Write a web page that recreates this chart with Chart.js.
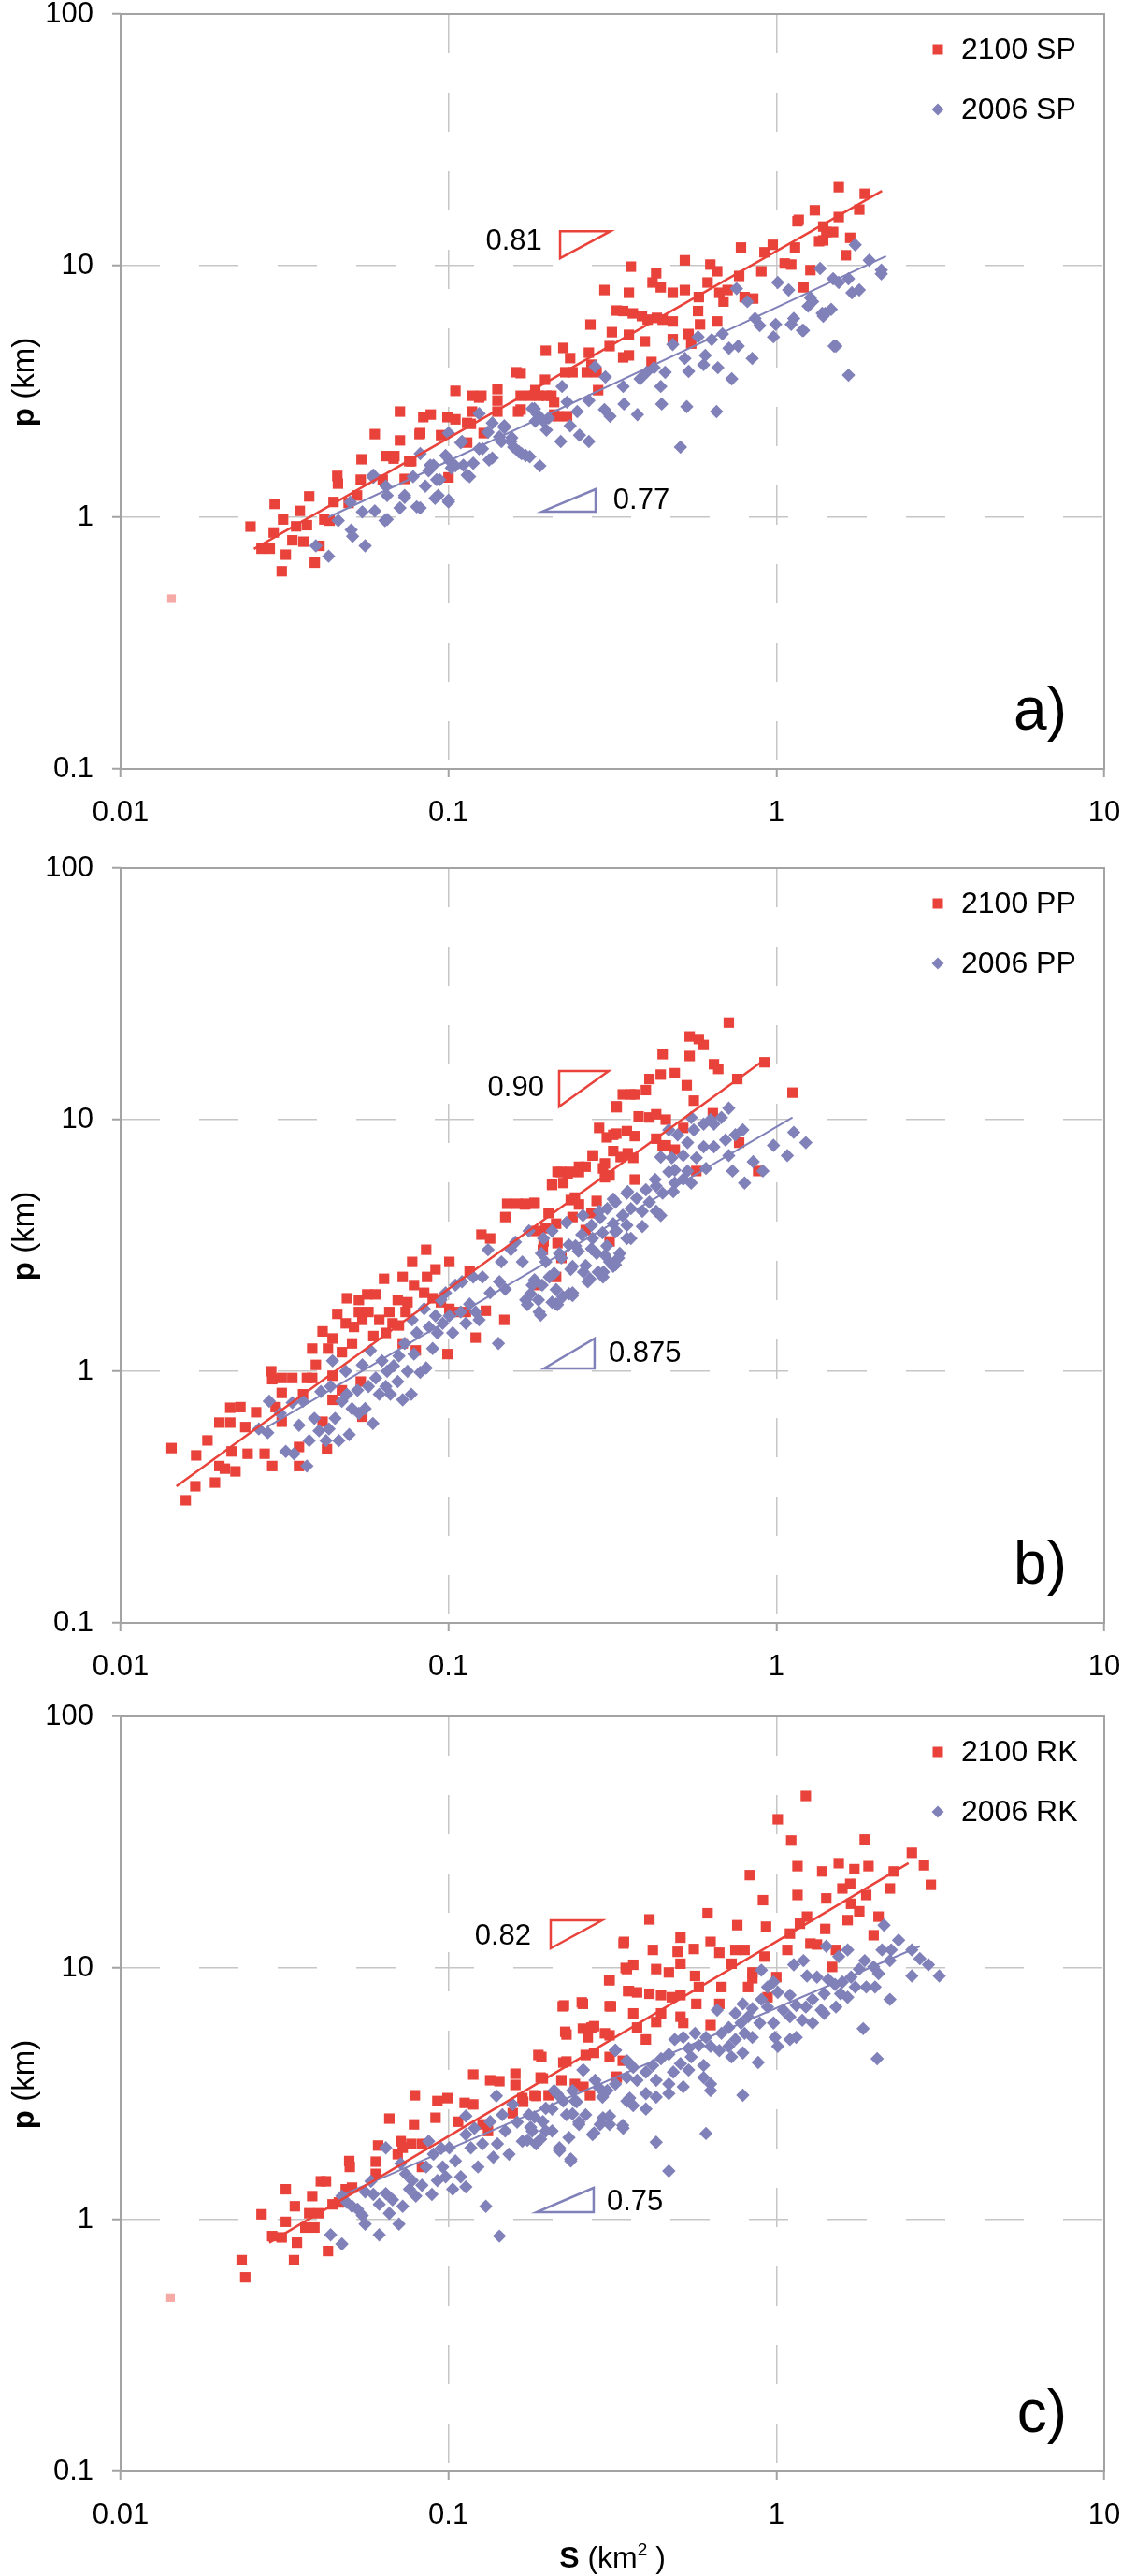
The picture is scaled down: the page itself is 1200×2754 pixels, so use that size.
<!DOCTYPE html>
<html>
<head>
<meta charset="utf-8">
<script src="https://cdn.jsdelivr.net/npm/chart.js@4.4.1/dist/chart.umd.min.js"></script>
<style>
  html, body { margin: 0; padding: 0; background: #fff; }
  #wrap { position: relative; width: 1200px; height: 2754px; }
  canvas { position: absolute; left: 0; }
</style>
</head>
<body>
<div id="wrap">
  <canvas id="panel-a" width="1200" height="911" style="top:0"></canvas>
  <canvas id="panel-b" width="1200" height="911" style="top:913px"></canvas>
  <canvas id="panel-c" width="1200" height="934" style="top:1820px"></canvas>
</div>
<script>
// axes
const xTicks = [0.01, 0.1, 1, 10];
const xTickLabels = ['0.01', '0.1', '1', '10'];
const yTicks = [0.1, 1, 10, 100];
const yTickLabels = ['0.1', '1', '10', '100'];

// a) SP
const sp2100 = [[0.0249,0.918],[0.0295,1.13],[0.0313,0.98],[0.0293,0.87],[0.0269,0.75],[0.0285,0.75],[0.031,0.61],[0.0319,0.71],[0.0343,0.92],[0.0352,1.06],[0.037,0.93],[0.0334,0.81],[0.0361,0.8],[0.0376,1.21],[0.0391,0.66],[0.0418,0.98],[0.0446,1.15],[0.0458,1.46],[0.046,1.36],[0.0434,0.97],[0.0404,0.77],[0.0496,1.14],[0.054,1.41],[0.0543,1.7],[0.0526,1.22],[0.0596,2.14],[0.063,1.41],[0.0644,1.75],[0.0684,1.75],[0.0711,2.02],[0.0711,2.63],[0.0735,1.42],[0.0759,1.67],[0.0816,2.14],[0.0838,2.5],[0.0883,2.56],[0.0949,2.12],[0.0993,2.5],[0.105,3.18],[0.105,2.45],[0.118,3.04],[0.124,2.99],[0.118,2.63],[0.117,2.35],[0.114,1.98],[0.141,3.23],[0.141,2.91],[0.128,2.16],[0.166,3.74],[0.163,2.63],[0.198,4.59],[0.197,3.52],[0.177,3.04],[0.189,3.04],[0.206,3.04],[0.21,2.56],[0.068,1.71],[0.077,1.67],[0.082,2.16],[0.1,1.44],[0.114,2.37],[0.126,3.04],[0.141,2.63],[0.161,3.77],[0.166,3.04],[0.166,2.68],[0.184,3.2],[0.199,3.04],[0.21,2.87],[0.224,4.71],[0.227,3.77],[0.235,4.29],[0.239,3.77],[0.215,2.52],[0.23,2.52],[0.264,3.77],[0.273,4.04],[0.283,3.77],[0.286,3.2],[0.268,4.51],[0.271,5.83],[0.299,8.0],[0.315,5.44],[0.326,6.63],[0.341,6.6],[0.365,6.46],[0.355,7.8],[0.36,9.91],[0.389,6.3],[0.405,6.1],[0.397,5.0],[0.355,4.4],[0.355,5.31],[0.31,4.79],[0.341,4.32],[0.419,8.57],[0.43,9.33],[0.444,8.2],[0.416,4.14],[0.432,6.2],[0.45,6.1],[0.483,7.8],[0.483,6.0],[0.483,5.1],[0.526,8.0],[0.526,10.5],[0.54,5.35],[0.55,4.9],[0.577,6.6],[0.58,7.5],[0.585,5.84],[0.617,8.57],[0.629,10.1],[0.66,9.5],[0.66,6.0],[0.67,7.8],[0.69,7.2],[0.71,8.0],[0.78,11.8],[0.77,9.1],[0.8,7.5],[0.85,7.4],[0.9,9.5],[0.92,11.3],[0.975,12.1],[1.06,10.2],[1.11,10.1],[1.16,15.0],[1.14,11.8],[1.21,8.2],[1.27,9.6],[1.31,16.6],[1.39,14.3],[1.39,12.6],[1.42,13.6],[1.55,20.5],[1.55,15.6],[1.86,19.3],[1.79,16.7],[1.17,15.2],[1.49,13.6],[1.35,12.5],[1.68,12.9],[1.63,11.0]];
const sp2006 = [[0.0394,0.77],[0.0431,0.7],[0.0461,0.97],[0.0502,1.15],[0.0505,0.89],[0.051,0.84],[0.0557,0.77],[0.0546,1.05],[0.059,1.47],[0.0596,1.06],[0.0644,1.33],[0.065,0.98],[0.065,1.22],[0.0711,1.09],[0.0735,1.2],[0.08,1.1],[0.082,1.79],[0.078,1.45],[0.085,1.33],[0.087,1.53],[0.09,1.61],[0.092,1.41],[0.093,1.22],[0.098,1.76],[0.1,2.16],[0.1,1.15],[0.102,1.57],[0.109,1.98],[0.111,1.61],[0.116,1.45],[0.124,2.58],[0.124,1.87],[0.132,2.18],[0.133,1.69],[0.136,2.37],[0.145,2.0],[0.148,2.27],[0.156,2.07],[0.158,1.9],[0.167,1.79],[0.177,1.74],[0.183,2.7],[0.19,1.6],[0.184,2.41],[0.199,2.22],[0.202,2.48],[0.059,1.44],[0.064,0.97],[0.0735,1.22],[0.082,1.09],[0.088,1.61],[0.091,1.19],[0.094,1.41],[0.1,1.17],[0.101,1.67],[0.105,1.6],[0.11,2.0],[0.114,1.47],[0.119,1.64],[0.127,1.87],[0.136,1.72],[0.143,2.09],[0.148,2.31],[0.155,2.0],[0.164,1.82],[0.172,1.76],[0.18,2.7],[0.187,2.56],[0.195,2.41],[0.22,2.0],[0.222,3.31],[0.23,2.87],[0.235,2.31],[0.251,2.12],[0.268,2.0],[0.247,2.63],[0.268,2.91],[0.28,3.97],[0.299,2.68],[0.301,3.61],[0.311,2.52],[0.341,3.31],[0.343,2.82],[0.377,2.56],[0.384,3.55],[0.402,3.77],[0.424,3.93],[0.444,3.31],[0.447,2.82],[0.458,3.77],[0.483,4.86],[0.51,1.9],[0.526,4.28],[0.533,2.75],[0.54,3.8],[0.577,5.21],[0.6,4.04],[0.607,4.4],[0.635,5.08],[0.657,2.63],[0.663,3.93],[0.685,5.35],[0.717,4.7],[0.731,3.55],[0.756,8.1],[0.765,4.79],[0.816,7.2],[0.844,4.28],[0.861,6.17],[0.89,5.78],[0.98,5.21],[0.995,5.84],[1.01,8.57],[1.09,8.0],[1.11,5.84],[1.21,5.53],[1.27,7.46],[1.36,9.75],[1.38,6.46],[1.39,6.3],[1.49,8.87],[1.5,4.79],[1.74,12.1],[1.92,10.5],[2.09,9.6],[2.09,9.27],[1.55,8.57],[1.66,8.87],[1.7,7.8],[1.79,8.0],[1.29,7.2],[1.25,6.9],[1.41,6.46],[1.47,6.7],[1.2,5.53],[1.52,4.79],[1.66,3.67],[1.13,6.17]];
const spFaded = [[0.0143,0.475]];
const spFit2100 = [[0.0255,0.748],[2.1,19.8]];
const spFit2006 = [[0.043,1.0],[2.16,10.9]];

// b) PP
const pp2100 = [[0.0143,0.495],[0.0158,0.307],[0.0169,0.349],[0.017,0.463],[0.0184,0.531],[0.0194,0.361],[0.02,0.625],[0.02,0.42],[0.0208,0.41],[0.0216,0.625],[0.0216,0.716],[0.0218,0.48],[0.0224,0.4],[0.0232,0.72],[0.024,0.6],[0.0244,0.47],[0.0259,0.687],[0.0275,0.47],[0.0288,1.0],[0.029,0.42],[0.029,0.93],[0.0297,0.72],[0.031,0.82],[0.031,0.94],[0.031,0.63],[0.0334,0.94],[0.035,0.5],[0.035,0.42],[0.036,0.81],[0.037,0.94],[0.0384,1.23],[0.0384,0.94],[0.0394,1.06],[0.0413,1.44],[0.0413,0.63],[0.0426,0.49],[0.0429,1.23],[0.0443,1.35],[0.0443,0.96],[0.0443,0.77],[0.0458,1.69],[0.0473,1.19],[0.0473,0.84],[0.0486,1.55],[0.049,1.95],[0.0508,1.29],[0.0515,1.5],[0.0533,1.92],[0.0533,1.72],[0.054,0.91],[0.0546,1.6],[0.0546,0.66],[0.0565,2.02],[0.057,1.72],[0.059,1.38],[0.06,2.02],[0.0615,1.6],[0.0636,2.33],[0.0644,1.42],[0.066,1.72],[0.0675,1.55],[0.07,1.92],[0.0706,1.52],[0.0725,2.37],[0.0725,1.29],[0.074,1.72],[0.075,1.88],[0.0775,2.72],[0.0785,2.2],[0.0795,1.21],[0.0843,2.05],[0.0855,3.04],[0.086,2.37],[0.0895,1.95],[0.0913,2.54],[0.0948,1.88],[0.0993,1.17],[0.1006,2.72],[0.1006,1.77],[0.105,1.72],[0.113,1.72],[0.116,2.5],[0.121,1.36],[0.126,3.49],[0.13,1.74],[0.134,3.37],[0.148,1.6],[0.149,4.1],[0.151,4.63],[0.162,4.63],[0.172,4.63],[0.183,4.63],[0.185,3.61],[0.194,3.04],[0.198,3.7],[0.207,5.54],[0.213,2.37],[0.22,6.19],[0.231,6.1],[0.243,4.9],[0.25,6.19],[0.262,6.5],[0.275,7.2],[0.283,4.75],[0.288,9.27],[0.296,6.4],[0.304,8.5],[0.31,6.0],[0.325,11.3],[0.325,8.8],[0.34,12.6],[0.352,7.35],[0.36,12.6],[0.716,24.3],[0.544,21.4],[0.58,20.9],[0.6,19.8],[0.45,18.2],[0.544,17.9],[0.645,16.6],[0.665,15.9],[0.92,16.9],[0.444,15.1],[0.41,14.5],[0.49,15.3],[0.533,13.7],[0.76,14.5],[1.12,12.8],[0.37,12.6],[0.4,13.1],[0.56,11.9],[0.326,11.2],[0.38,10.3],[0.41,10.2],[0.43,10.5],[0.46,10.0],[0.64,10.6],[0.52,9.27],[0.318,8.7],[0.35,9.0],[0.37,8.6],[0.43,8.4],[0.45,7.9],[0.46,7.9],[0.77,8.1],[0.318,7.5],[0.335,7.1],[0.366,7.05],[0.276,7.2],[0.3,6.7],[0.25,6.5],[0.233,6.2],[0.215,6.2],[0.224,5.6],[0.207,5.5],[0.88,6.25],[0.3,5.9],[0.37,5.78],[0.183,4.67],[0.171,4.6],[0.202,4.25],[0.236,4.79],[0.25,4.6],[0.213,3.86],[0.239,4.1],[0.273,4.25],[0.262,3.64],[0.195,3.28],[0.215,3.23],[0.31,3.28],[0.188,2.2],[0.221,2.82],[0.49,7.6],[0.57,6.25]];
const pp2006 = [[0.0284,0.76],[0.0307,0.68],[0.0264,0.59],[0.0281,0.57],[0.0319,0.48],[0.0338,0.47],[0.037,0.42],[0.0334,0.75],[0.035,0.61],[0.036,0.76],[0.0376,0.53],[0.039,0.65],[0.0403,0.58],[0.0408,0.83],[0.0423,0.53],[0.0432,0.59],[0.0437,0.87],[0.0443,1.1],[0.0451,0.65],[0.0463,0.53],[0.0473,0.76],[0.0486,1.0],[0.049,0.81],[0.0498,0.56],[0.0508,0.71],[0.0528,0.84],[0.0533,0.68],[0.0546,1.06],[0.0557,0.71],[0.057,0.87],[0.0578,1.21],[0.0588,0.62],[0.06,0.94],[0.0615,0.81],[0.0627,1.1],[0.0644,0.87],[0.065,1.0],[0.0665,0.81],[0.068,1.05],[0.07,0.91],[0.0706,1.15],[0.0725,0.77],[0.0735,1.29],[0.075,1.0],[0.077,0.81],[0.0775,1.6],[0.0785,1.17],[0.08,1.42],[0.082,0.99],[0.0843,1.77],[0.0855,1.03],[0.0873,1.5],[0.0895,1.23],[0.0913,1.66],[0.0925,1.42],[0.0948,1.92],[0.096,1.55],[0.098,2.05],[0.1006,1.66],[0.103,1.42],[0.105,2.2],[0.109,1.72],[0.11,2.27],[0.113,1.55],[0.116,1.85],[0.119,2.37],[0.121,1.72],[0.124,1.6],[0.127,2.37],[0.132,3.04],[0.134,2.05],[0.142,1.29],[0.143,2.27],[0.145,2.72],[0.149,2.12],[0.155,3.04],[0.16,3.26],[0.168,2.72],[0.172,1.92],[0.176,3.61],[0.18,2.2],[0.189,1.72],[0.192,2.94],[0.195,3.37],[0.203,2.37],[0.207,3.61],[0.213,1.85],[0.218,2.94],[0.223,1.98],[0.229,3.9],[0.236,2.54],[0.239,2.05],[0.244,3.15],[0.257,4.16],[0.262,2.63],[0.266,2.27],[0.275,3.37],[0.283,2.94],[0.288,4.32],[0.296,2.37],[0.304,3.15],[0.31,2.72],[0.318,4.83],[0.325,3.61],[0.333,2.94],[0.34,4.16],[0.352,5.17],[0.36,3.37],[0.716,11.1],[0.68,10.2],[0.63,10.0],[0.55,10.2],[0.6,9.6],[0.645,9.6],[0.47,9.1],[0.5,8.7],[0.56,9.1],[0.79,9.1],[0.75,8.7],[0.7,8.3],[0.536,8.1],[0.6,7.8],[0.645,7.8],[0.716,7.2],[0.52,7.2],[0.48,7.05],[0.444,7.1],[0.57,7.05],[0.61,6.4],[0.536,6.25],[0.49,6.3],[0.85,6.8],[0.98,7.9],[1.08,7.2],[1.13,8.9],[1.23,8.1],[0.735,6.25],[0.8,5.6],[0.91,6.25],[0.47,6.2],[0.427,5.78],[0.49,5.6],[0.52,5.8],[0.55,5.6],[0.4,5.26],[0.43,5.44],[0.45,5.1],[0.485,5.17],[0.375,4.87],[0.41,4.7],[0.35,5.1],[0.323,4.7],[0.36,4.43],[0.39,4.32],[0.43,4.32],[0.34,4.16],[0.305,4.43],[0.29,4.07],[0.318,3.86],[0.35,3.8],[0.39,3.76],[0.444,4.16],[0.273,3.8],[0.255,3.49],[0.295,3.55],[0.323,3.58],[0.35,3.37],[0.233,3.18],[0.249,3.0],[0.273,3.07],[0.3,2.89],[0.33,2.82],[0.221,2.82],[0.239,2.61],[0.258,2.48],[0.286,2.48],[0.318,2.61],[0.198,2.72],[0.21,2.45],[0.193,2.2],[0.183,2.31],[0.213,2.11],[0.233,2.03],[0.178,2.03],[0.188,1.92],[0.207,1.88],[0.174,1.84],[0.191,1.67],[0.215,1.84],[0.239,2.0],[0.27,2.33],[0.297,2.48],[0.323,2.65]];
const ppFaded = [];
const ppFit2100 = [[0.0148,0.349],[0.92,17.3]];
const ppFit2006 = [[0.028,0.6],[1.12,10.2]];

// c) RK
const rk2100 = [[0.0234,0.69],[0.024,0.59],[0.0269,1.05],[0.029,0.86],[0.031,0.85],[0.0319,1.32],[0.0319,0.98],[0.0338,0.69],[0.034,1.13],[0.0345,0.81],[0.0366,0.93],[0.0376,1.06],[0.0384,1.24],[0.039,0.93],[0.0403,1.06],[0.0408,1.42],[0.0423,1.42],[0.0429,0.75],[0.0443,1.15],[0.0463,1.17],[0.0486,1.32],[0.0498,1.71],[0.05,1.62],[0.0508,1.34],[0.06,1.52],[0.06,1.7],[0.061,1.97],[0.066,2.52],[0.07,1.82],[0.0715,2.05],[0.0725,1.93],[0.077,2.0],[0.0785,2.39],[0.079,3.12],[0.083,1.62],[0.083,2.0],[0.0913,2.54],[0.0925,2.96],[0.0993,3.04],[0.107,2.45],[0.112,2.91],[0.119,3.77],[0.119,2.87],[0.127,2.39],[0.132,2.25],[0.134,3.58],[0.143,3.55],[0.157,2.65],[0.16,3.8],[0.16,3.43],[0.168,3.04],[0.185,3.1],[0.192,4.43],[0.194,3.64],[0.223,7.04],[0.229,5.44],[0.229,4.25],[0.257,7.2],[0.257,5.74],[0.262,4.51],[0.278,5.87],[0.31,8.95],[0.313,7.04],[0.31,5.4],[0.325,3.7],[0.343,12.7],[0.347,10.0],[0.353,8.1],[1.23,48.3],[1.01,39.0],[1.11,32.1],[1.86,32.4],[2.59,28.7],[2.82,25.6],[2.96,21.4],[2.28,24.2],[1.91,25.4],[1.73,24.7],[1.55,26.1],[1.38,24.2],[1.16,25.4],[0.83,23.4],[2.22,20.7],[1.88,19.5],[1.68,21.6],[1.59,20.7],[1.16,19.5],[1.42,18.9],[0.91,18.6],[1.69,18.0],[1.79,16.8],[1.65,15.5],[2.05,16.0],[1.24,16.0],[1.18,15.0],[1.98,13.5],[1.41,14.3],[1.1,13.7],[0.93,14.6],[0.617,16.5],[0.76,14.8],[0.41,15.6],[0.342,12.5],[0.51,13.2],[0.63,12.7],[0.75,11.8],[0.8,11.8],[1.27,12.5],[1.33,12.4],[1.52,11.8],[0.42,11.8],[0.5,11.6],[0.56,11.9],[0.67,11.5],[1.08,11.8],[0.92,11.1],[0.845,9.6],[1.48,10.1],[0.366,10.3],[0.35,9.9],[0.43,9.9],[0.47,9.6],[0.565,9.3],[0.309,8.95],[0.51,10.4],[0.73,10.4],[0.845,9.1],[1.0,9.2],[0.355,8.1],[0.376,8.0],[0.41,7.9],[0.445,7.8],[0.48,7.65],[0.51,7.8],[0.58,8.4],[0.68,8.4],[0.57,7.2],[0.67,7.2],[0.82,8.4],[0.94,7.65],[0.225,7.1],[0.255,7.3],[0.31,7.05],[0.366,6.6],[0.445,6.6],[0.51,6.4],[0.376,5.8],[0.43,6.1],[0.52,6.05],[0.63,5.93],[0.227,5.58],[0.273,5.8],[0.266,5.3],[0.3,5.5],[0.4,5.2],[0.188,4.51],[0.224,4.21],[0.278,4.6],[0.31,4.43],[0.34,4.28],[0.191,3.67],[0.221,3.58],[0.243,3.46],[0.258,3.37],[0.326,3.67],[0.183,3.12],[0.169,2.94],[0.202,3.12],[0.27,3.12]];
const rk2006 = [[0.0437,0.87],[0.0473,0.8],[0.0473,1.24],[0.049,1.17],[0.0508,1.13],[0.0528,1.1],[0.0546,1.04],[0.0557,1.29],[0.0557,0.96],[0.058,1.42],[0.059,1.26],[0.0615,0.87],[0.0615,1.15],[0.0644,1.93],[0.0644,1.27],[0.066,1.06],[0.0675,1.2],[0.0706,0.96],[0.0715,1.67],[0.0725,1.13],[0.074,1.52],[0.076,1.32],[0.0775,1.43],[0.0795,1.24],[0.083,1.37],[0.0855,1.62],[0.087,2.05],[0.089,1.26],[0.09,1.82],[0.0925,1.43],[0.095,1.92],[0.096,1.62],[0.098,1.48],[0.1006,1.93],[0.103,1.32],[0.105,1.71],[0.109,1.48],[0.113,2.58],[0.113,2.18],[0.113,1.35],[0.117,1.93],[0.12,2.31],[0.123,1.62],[0.127,2.0],[0.13,1.13],[0.134,2.45],[0.137,1.77],[0.14,3.1],[0.141,2.0],[0.143,0.86],[0.146,2.61],[0.149,2.25],[0.153,1.82],[0.157,2.87],[0.162,2.44],[0.168,2.05],[0.176,2.61],[0.18,2.25],[0.185,2.0],[0.194,2.45],[0.198,2.77],[0.207,2.25],[0.215,3.15],[0.218,1.93],[0.229,2.61],[0.236,1.74],[0.243,2.96],[0.25,2.39],[0.257,3.93],[0.262,2.61],[0.275,2.18],[0.288,3.34],[0.296,2.54],[0.31,2.39],[0.323,4.71],[0.341,2.31],[0.352,4.25],[0.357,3.04],[2.13,14.8],[2.36,12.9],[2.24,11.8],[2.59,11.8],[2.1,11.8],[2.74,10.9],[2.91,10.3],[3.14,9.3],[2.59,9.3],[2.22,10.7],[1.98,10.1],[2.05,9.5],[1.86,10.7],[1.65,11.8],[1.55,11.1],[1.42,12.2],[1.21,10.7],[1.13,10.3],[1.79,9.9],[1.69,9.2],[1.59,8.8],[1.44,9.0],[1.33,9.2],[1.24,9.3],[1.57,7.9],[1.74,8.4],[1.88,8.4],[2.0,8.4],[1.65,7.65],[2.22,7.5],[1.51,8.6],[1.4,7.9],[1.29,7.5],[1.52,7.0],[1.4,6.6],[1.23,7.0],[1.15,7.1],[1.1,7.8],[1.01,8.0],[0.9,9.8],[0.98,8.8],[0.94,8.4],[0.94,7.0],[1.05,6.8],[1.1,6.4],[1.2,6.2],[1.29,6.05],[1.37,6.8],[0.9,7.5],[0.845,6.9],[0.79,7.2],[0.75,6.6],[0.82,6.4],[0.89,6.05],[0.98,6.05],[0.99,5.3],[1.1,5.2],[1.15,5.3],[1.01,4.88],[1.84,5.74],[2.03,4.36],[0.66,6.8],[0.716,5.8],[0.68,5.5],[0.78,6.05],[0.8,5.5],[0.845,5.3],[0.75,5.2],[0.716,4.88],[0.79,4.6],[0.88,4.21],[0.61,5.3],[0.63,4.88],[0.58,4.92],[0.67,4.7],[0.73,4.43],[0.565,5.5],[0.52,5.3],[0.54,4.79],[0.49,5.2],[0.47,4.54],[0.55,4.43],[0.6,4.1],[0.51,4.17],[0.445,4.36],[0.42,4.1],[0.485,3.86],[0.54,3.93],[0.6,3.67],[0.63,3.46],[0.47,3.46],[0.52,3.37],[0.43,3.58],[0.4,3.86],[0.366,4.03],[0.35,4.28],[0.323,4.71],[0.376,3.58],[0.35,3.67],[0.323,3.46],[0.4,3.17],[0.43,3.07],[0.47,3.17],[0.63,3.26],[0.305,3.26],[0.28,3.58],[0.258,3.93],[0.295,3.07],[0.35,2.96],[0.366,2.84],[0.4,2.75],[0.79,3.12],[0.61,2.2],[0.43,2.03],[0.47,1.56],[0.239,3.26],[0.224,2.96],[0.21,3.26],[0.207,2.75],[0.239,2.63],[0.25,2.44],[0.278,2.21],[0.31,2.58],[0.34,2.37],[0.29,2.39],[0.233,2.12],[0.218,1.88],[0.236,1.71],[0.183,2.56],[0.178,2.33],[0.191,2.09],[0.174,2.07],[0.198,2.25],[0.246,2.94]];
const rkFaded = [[0.0142,0.49]];
const rkFit2100 = [[0.0284,0.81],[2.53,26.1]];
const rkFit2006 = [[0.0486,1.27],[2.74,12.2]];

// slope marks: [colour key, label, triangle corners, label anchor, label side]
const spSlopeMarks = [
  ['red', '0.81', [[0.219,13.7],[0.312,13.7],[0.219,10.7]], [0.193,12.4], 'right'],
  ['purple', '0.77', [[0.193,1.053],[0.281,1.053],[0.281,1.293]], [0.318,1.166], 'left'],
];
const ppSlopeMarks = [
  ['red', '0.90', [[0.2175,15.6],[0.308,15.6],[0.2175,11.27]], [0.1957,13.38], 'right'],
  ['purple', '0.875', [[0.1957,1.026],[0.279,1.026],[0.279,1.349]], [0.308,1.177], 'left'],
];
const rkSlopeMarks = [
  ['red', '0.82', [[0.205,15.47],[0.294,15.47],[0.205,11.97]], [0.1786,13.27], 'right'],
  ['purple', '0.75', [[0.1857,1.071],[0.2772,1.071],[0.2772,1.338]], [0.304,1.177], 'left'],
];

const COLORS = { red: '#e8423a', purple: '#8181b9', faded: '#f5aaa6' };
const GRID = '#c6c6c6';
const AXIS = '#a3a3a3';
const FONT = '"Liberation Sans", Arial, Helvetica, sans-serif';

const toXY = (pts) => pts.map(([x, y]) => ({ x, y }));

const logAxis = (ticks, labels, min, max, fit) => ({
  type: 'logarithmic',
  min,
  max,
  afterBuildTicks: (s) => { s.ticks = ticks.map((value) => ({ value })); },
  afterFit: (s) => {
    fit(s);
    s.paddingTop = 0; s.paddingBottom = 0; s.paddingLeft = 0; s.paddingRight = 0;
  },
  ticks: {
    autoSkip: false,
    maxRotation: 0,
    padding: 20,
    color: '#000',
    font: { family: FONT, size: 31 },
    callback: (v, i) => labels[i],
  },
  grid: {
    color: (c) => (c.tick && (c.tick.value === min || c.tick.value === max) ? 'rgba(0,0,0,0)' : GRID),
    lineWidth: 1.5,
    tickColor: AXIS,
    tickLength: 9,
    tickWidth: 2,
  },
  border: { display: false, dash: [42, 42] },
});

const drawYTitle = (ctx, a) => {
  ctx.save();
  ctx.translate(27, (a.top + a.bottom) / 2 - 10);
  ctx.rotate(-Math.PI / 2);
  ctx.textBaseline = 'middle';
  ctx.textAlign = 'left';
  ctx.fillStyle = '#000';
  ctx.font = `bold 33px ${FONT}`;
  const w1 = ctx.measureText('p').width;
  ctx.font = `33px ${FONT}`;
  const w2 = ctx.measureText(' (km)').width;
  const x0 = -(w1 + w2) / 2;
  ctx.font = `bold 33px ${FONT}`;
  ctx.fillText('p', x0, 0);
  ctx.font = `33px ${FONT}`;
  ctx.fillText(' (km)', x0 + w1, 0);
  ctx.restore();
};

const drawXTitle = (ctx, a, baseline) => {
  ctx.save();
  ctx.fillStyle = '#000';
  ctx.textBaseline = 'alphabetic';
  ctx.textAlign = 'left';
  const parts = [
    ['S', `bold 32px ${FONT}`, 0],
    [' (km', `32px ${FONT}`, 0],
    ['2', `19px ${FONT}`, -13],
    [' )', `32px ${FONT}`, 0],
  ];
  let total = 0;
  parts.forEach(([t, f]) => { ctx.font = f; total += ctx.measureText(t).width; });
  let x = (a.left + a.right) / 2 - total / 2;
  parts.forEach(([t, f, dy]) => {
    ctx.font = f;
    ctx.fillText(t, x, baseline + dy);
    x += ctx.measureText(t).width;
  });
  ctx.restore();
};

const decorations = (cfg) => ({
  id: 'panelDeco',
  beforeDatasetsDraw(chart) {
    const { ctx, chartArea: a } = chart;
    ctx.save();
    ctx.strokeStyle = AXIS;
    ctx.lineWidth = 2;
    ctx.strokeRect(a.left, a.top, a.right - a.left, a.bottom - a.top);
    ctx.restore();
  },
  afterDraw(chart) {
    const { ctx, chartArea: a, scales: { x, y } } = chart;
    ctx.save();

    cfg.slopes.forEach(([key, text, corners, anchor, side]) => {
      ctx.beginPath();
      corners.forEach(([vx, vy], i) => {
        const px = x.getPixelForValue(vx);
        const py = y.getPixelForValue(vy);
        if (i) ctx.lineTo(px, py); else ctx.moveTo(px, py);
      });
      ctx.closePath();
      ctx.strokeStyle = COLORS[key];
      ctx.lineWidth = 2.5;
      ctx.stroke();
      ctx.fillStyle = '#000';
      ctx.font = `31px ${FONT}`;
      ctx.textAlign = side;
      ctx.textBaseline = 'middle';
      ctx.fillText(text, x.getPixelForValue(anchor[0]), y.getPixelForValue(anchor[1]));
    });

    // legend, 2100 first then 2006
    const entries = chart.data.datasets.filter((d) => d.inLegend).sort((p, q) => p.legendRank - q.legendRank);
    entries.forEach((d, i) => {
      const cy = a.top + 38 + i * 64;
      const cx = 1003;
      ctx.fillStyle = d.backgroundColor;
      ctx.beginPath();
      if (d.pointStyle === 'rect') {
        ctx.rect(cx - 5.5, cy - 5.5, 11, 11);
      } else {
        ctx.moveTo(cx, cy - 6.5); ctx.lineTo(cx + 6.5, cy); ctx.lineTo(cx, cy + 6.5); ctx.lineTo(cx - 6.5, cy);
        ctx.closePath();
      }
      ctx.fill();
      ctx.fillStyle = '#000';
      ctx.font = `32px ${FONT}`;
      ctx.textAlign = 'left';
      ctx.textBaseline = 'middle';
      ctx.fillText(d.label, 1028, cy + 1);
    });

    ctx.fillStyle = '#000';
    ctx.font = `64px ${FONT}`;
    ctx.textAlign = 'right';
    ctx.textBaseline = 'alphabetic';
    ctx.fillText(cfg.letter, a.right - 40, a.bottom - 42);

    drawYTitle(ctx, a);
    if (cfg.xTitle) drawXTitle(ctx, a, chart.height - 9);
    ctx.restore();
  },
});

const makePanel = (id, cfg) => {
  const canvas = document.getElementById(id);
  const H = canvas.height;
  return new Chart(canvas, {
    type: 'scatter',
    data: {
      datasets: [
        { label: cfg.names[0] + ' fit', data: toXY(cfg.fitRed), showLine: true, borderColor: COLORS.red, borderWidth: 2.5, pointRadius: 0 },
        { label: cfg.names[1] + ' fit', data: toXY(cfg.fitPurple), showLine: true, borderColor: COLORS.purple, borderWidth: 2, pointRadius: 0 },
        { label: cfg.names[1], data: toXY(cfg.purple), pointStyle: 'rectRot', pointRadius: 7.2, backgroundColor: COLORS.purple, borderWidth: 0, inLegend: true, legendRank: 1 },
        { label: cfg.names[0], data: toXY(cfg.red), pointStyle: 'rect', pointRadius: 7.9, backgroundColor: COLORS.red, borderWidth: 0, inLegend: true, legendRank: 0 },
        { label: 'faded', data: toXY(cfg.faded), pointStyle: 'rect', pointRadius: 6.5, backgroundColor: COLORS.faded, borderWidth: 0 },
      ],
    },
    options: {
      responsive: false,
      animation: false,
      events: [],
      layout: { padding: { top: 15, right: 19, left: 0, bottom: 0 } },
      plugins: { legend: { display: false }, tooltip: { enabled: false } },
      scales: {
        x: logAxis(xTicks, xTickLabels, 0.01, 10, (s) => { s.height = H - 822; }),
        y: logAxis(yTicks, yTickLabels, 0.1, 100, (s) => { s.width = 129; }),
      },
    },
    plugins: [decorations(cfg)],
  });
};

makePanel('panel-a', {
  names: ['2100 SP', '2006 SP'], red: sp2100, purple: sp2006, faded: spFaded,
  fitRed: spFit2100, fitPurple: spFit2006, slopes: spSlopeMarks, letter: 'a)', xTitle: false,
});
makePanel('panel-b', {
  names: ['2100 PP', '2006 PP'], red: pp2100, purple: pp2006, faded: ppFaded,
  fitRed: ppFit2100, fitPurple: ppFit2006, slopes: ppSlopeMarks, letter: 'b)', xTitle: false,
});
makePanel('panel-c', {
  names: ['2100 RK', '2006 RK'], red: rk2100, purple: rk2006, faded: rkFaded,
  fitRed: rkFit2100, fitPurple: rkFit2006, slopes: rkSlopeMarks, letter: 'c)', xTitle: true,
});
</script>
</body>
</html>
